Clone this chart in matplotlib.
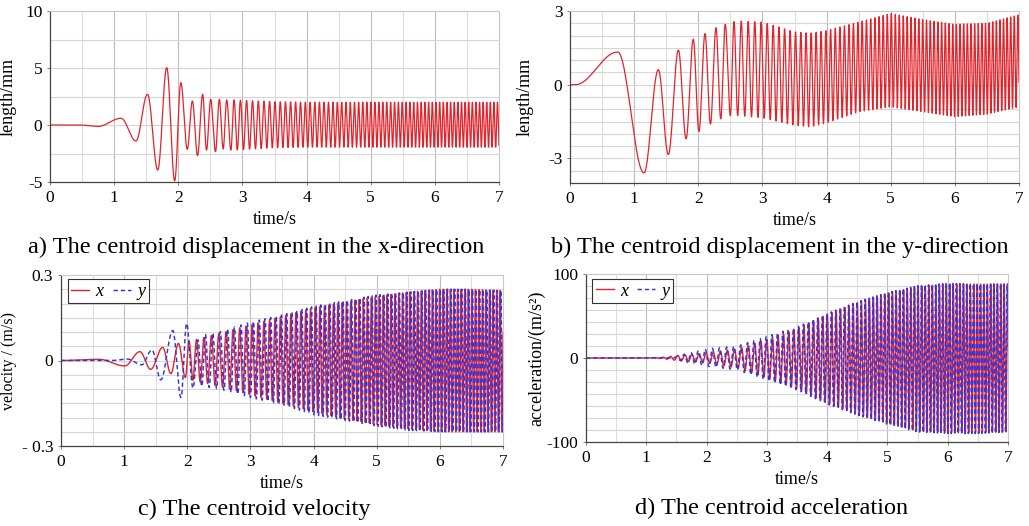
import numpy as np
import matplotlib
matplotlib.use("Agg")
import matplotlib.pyplot as plt
from matplotlib.ticker import FixedLocator, FixedFormatter

plt.rcParams['font.family'] = ['Liberation Serif', 'DejaVu Serif']

# ---------------- data ----------------
# oscillation frequency of the dense part (Hz) at knot times (s)
freq_t = [1.0, 1.5, 2.0, 2.5, 3.0, 4.0, 5.0, 6.0, 7.0]
freq_hz = [8.0, 8.5, 8.5, 8.5, 10.5, 13.5, 16.0, 17.5, 18.0]

# a) x displacement (mm): early extrema
ax_ext_t = [0.0, 0.45, 0.75, 1.107, 1.34, 1.52, 1.68, 1.82, 1.944, 2.04, 2.14,
            2.22, 2.30, 2.38, 2.44, 2.505, 2.58, 2.64, 2.70, 2.755, 2.82, 2.87]
ax_ext_v = [0.0, 0.0, -0.12, 0.59, -1.40, 2.69, -3.95, 5.03, -4.9, 3.71, -2.13,
            2.1, -2.69, 2.69, -2.2, 2.25, -2.34, 2.25, -2.1, 2.2, -2.2, 2.2]
ax_env_t = [2.87, 3.5, 4.0, 5.0, 6.0, 7.0]
ax_env_up = [2.2, 2.05, 2.0, 2.0, 2.0, 2.0]
ax_env_lo = [-2.2, -2.0, -1.95, -1.95, -1.95, -1.95]

# b) y displacement (mm)
by_ext_t = [0.0, 0.08, 0.745, 1.154, 1.377, 1.533, 1.69, 1.81, 1.922, 2.01,
            2.105, 2.19, 2.276, 2.35, 2.42, 2.50, 2.557]
by_ext_v = [0.0, 0.0, 1.33, -3.59, 0.61, -2.84, 1.41, -2.2, 1.85, -1.9,
            2.08, -1.6, 2.32, -1.39, 2.46, -1.26, 2.57]
by_env_t = [2.6, 3.0, 3.5, 3.75, 4.0, 4.5, 5.0, 5.5, 6.0, 6.5, 7.0]
by_env_up = [2.6, 2.55, 2.15, 2.1, 2.2, 2.55, 2.9, 2.65, 2.45, 2.5, 2.85]
by_env_lo = [-1.25, -1.35, -1.65, -1.72, -1.55, -1.1, -0.9, -1.1, -1.3, -1.2, -0.9]

# c) velocity (m/s)
cx_ext_t = [0.0, 0.6, 1.01, 1.25, 1.42, 1.61, 1.74, 1.86, 1.97]
cx_ext_v = [0.0, 0.004, -0.019, 0.031, -0.031, 0.046, -0.046, 0.06, -0.06]
cx_env_t = [2.0, 2.5, 3.0, 3.5, 4.0, 4.5, 5.0, 5.5, 6.0, 6.5, 7.0]
cx_env_up = [0.065, 0.095, 0.125, 0.155, 0.185, 0.205, 0.225, 0.24, 0.25, 0.25, 0.245]
cx_env_lo = [-0.065, -0.09, -0.12, -0.15, -0.18, -0.205, -0.225, -0.24, -0.25, -0.25, -0.25]

cy_ext_t = [0.0, 0.8, 1.05, 1.28, 1.44, 1.58, 1.77, 1.90, 1.99, 2.09, 2.17]
cy_ext_v = [0.0, 0.0, 0.005, -0.015, 0.037, -0.068, 0.105, -0.13, 0.13, -0.097, 0.072]
cy_env_t = [2.2, 2.5, 3.0, 3.5, 4.0, 4.5, 5.0, 5.5, 6.0, 6.5, 7.0]
cy_env_up = [0.09, 0.10, 0.135, 0.16, 0.19, 0.21, 0.23, 0.24, 0.25, 0.25, 0.245]
cy_env_lo = [-0.09, -0.10, -0.13, -0.155, -0.19, -0.21, -0.23, -0.245, -0.25, -0.25, -0.25]

# d) acceleration (m/s^2)
dx_ext_t = [0.0, 1.1]
dx_ext_v = [0.0, 0.0]
dx_env_t = [1.1, 1.3, 1.5, 2.0, 2.5, 3.0, 3.5, 4.0, 4.5, 5.0, 5.5, 6.0, 6.5, 7.0]
dx_env_up = [0.0, 1.0, 3.0, 6.0, 11.0, 22.0, 35.0, 52.0, 66.0, 77.0, 85.0, 88.0, 88.0, 88.0]
dx_env_lo = [-0.0, -1.0, -3.0, -6.0, -12.0, -24.0, -37.0, -54.0, -67.0, -78.0, -87.0, -89.0, -89.0, -88.0]

dy_ext_t = [0.0, 1.45]
dy_ext_v = [0.0, 0.0]
dy_env_t = [1.45, 1.6, 2.0, 2.5, 3.0, 3.5, 4.0, 4.5, 5.0, 5.5, 6.0, 6.5, 7.0]
dy_env_up = [0.0, 4.0, 11.0, 14.0, 26.0, 37.0, 53.0, 67.0, 78.0, 86.0, 89.0, 88.0, 88.0]
dy_env_lo = [-0.0, -4.0, -10.0, -14.0, -27.0, -38.0, -55.0, -68.0, -79.0, -88.0, -90.0, -90.0, -88.0]

captions = ["a) The centroid displacement in the x-direction",
            "b) The centroid displacement in the y-direction",
            "c) The centroid velocity",
            "d) The centroid acceleration"]


# ---------------- helpers ----------------
def extend(ext_t, ext_v, env_t, up, lo, t_end=7.05):
    ts = list(ext_t)
    vs = list(ext_v)
    upper_next = vs[-1] <= vs[-2]
    tt = ts[-1]
    while tt < t_end:
        f = np.interp(tt, freq_t, freq_hz)
        tt += 0.5 / f
        ts.append(tt)
        vs.append(np.interp(tt, env_t, up if upper_next else lo))
        upper_next = not upper_next
    return np.array(ts), np.array(vs)


def wave(ext_t, ext_v, tv):
    idx = np.searchsorted(ext_t, tv, side='right') - 1
    idx = np.clip(idx, 0, len(ext_t) - 2)
    t0 = ext_t[idx]
    t1 = ext_t[idx + 1]
    s = np.clip((tv - t0) / (t1 - t0), 0, 1)
    v0 = ext_v[idx]
    v1 = ext_v[idx + 1]
    return v0 + (v1 - v0) * (1 - np.cos(np.pi * s)) / 2


t = np.linspace(0, 7, 30000)
RED = '#e3232b'
BLUE = '#3434d8'

fig = plt.figure(figsize=(10.29, 5.26), dpi=100)
W, H = 1029, 526


def make_ax(l, r, top, bot):
    return fig.add_axes([l / W, 1 - bot / H, (r - l) / W, (bot - top) / H])


axa = make_ax(50, 499, 11, 182)
axb = make_ax(570, 1019, 11, 183)
axc = make_ax(61, 503, 275, 446)
axd = make_ax(586, 1008, 274, 442)


def style(ax, ylim, yticks, ylabels, hgrid, ylabel, ylab_x, ylab_size=13):
    ax.set_xlim(0, 7)
    ax.set_ylim(*ylim)
    ax.set_xticks(range(8))
    ax.set_xticklabels([str(i) for i in range(8)])
    ax.yaxis.set_major_locator(FixedLocator(yticks))
    ax.yaxis.set_major_formatter(FixedFormatter(ylabels))
    for x in np.arange(0.5, 7.0, 0.5):
        c = '#bdbdbd' if abs(x - round(x)) < 1e-6 else '#dedede'
        ax.axvline(x, color=c, lw=0.8, zorder=0)
    for y in hgrid:
        ax.axhline(y, color='#d6d6d6', lw=0.8, zorder=0)
    ax.tick_params(axis='both', labelsize=12.5, length=2.5, width=0.6,
                   color='#666666', pad=3)
    for sp in ['top', 'right']:
        ax.spines[sp].set_color('#c8c8c8')
        ax.spines[sp].set_linewidth(0.8)
    for sp in ['left', 'bottom']:
        ax.spines[sp].set_color('#444444')
        ax.spines[sp].set_linewidth(0.9)
    ax.set_xlabel('time/s', fontsize=13)
    ax.xaxis.set_label_coords(0.5, -0.17)
    ax.set_ylabel(ylabel, fontsize=ylab_size)
    ax.yaxis.set_label_coords(ylab_x, 0.5)


# a
et, ev = extend(ax_ext_t, ax_ext_v, ax_env_t, ax_env_up, ax_env_lo)
axa.plot(t, wave(et, ev, t), color=RED, lw=0.9)
style(axa, (-5, 10), [-5, 0, 5, 10], ['-5', '0', '5', '10'],
      np.arange(-2.5, 10, 2.5), 'length/mm', -0.075)

# b
et, ev = extend(by_ext_t, by_ext_v, by_env_t, by_env_up, by_env_lo)
axb.plot(t, wave(et, ev, t), color=RED, lw=0.9)
style(axb, (-4, 3), [-3, 0, 3], ['-3', '0', '3'],
      np.arange(-3.5, 3.0, 0.5), 'length/mm', -0.082)

# c
et, ev = extend(cx_ext_t, cx_ext_v, cx_env_t, cx_env_up, cx_env_lo)
axc.plot(t, wave(et, ev, t), color=RED, lw=1.0, label='x')
et, ev = extend(cy_ext_t, cy_ext_v, cy_env_t, cy_env_up, cy_env_lo)
axc.plot(t, wave(et, ev, t), color=BLUE, lw=1.05, ls=(0, (3, 2)), label='y')
style(axc, (-0.3, 0.3), [-0.3, 0, 0.3], ['- 0.3', '0', '0.3'],
      np.arange(-0.25, 0.3, 0.05), 'velocity / (m/s)', -0.1, ylab_size=11.5)

# d
et, ev = extend(dx_ext_t, dx_ext_v, dx_env_t, dx_env_up, dx_env_lo)
axd.plot(t, wave(et, ev, t), color=RED, lw=1.0, label='x')
et, ev = extend(dy_ext_t, dy_ext_v, dy_env_t, dy_env_up, dy_env_lo)
axd.plot(t, wave(et, ev, t), color=BLUE, lw=1.05, ls=(0, (3, 2)), label='y')
style(axd, (-100, 100), [-100, 0, 100], ['-100', '0', '100'],
      np.arange(-100 + 100 / 7, 100, 100 / 7), 'acceleration/(m/s²)', -0.097)

for ax, anchor in [(axc, (0.015, 0.975)), (axd, (0.015, 0.97))]:
    leg = ax.legend(loc='upper left', bbox_to_anchor=anchor, borderaxespad=0,
                    ncol=2, handlelength=1.0, handletextpad=0.35,
                    columnspacing=0.5, fancybox=False, framealpha=1,
                    edgecolor='#333333', borderpad=0.2,
                    prop={'style': 'italic', 'size': 13})
    leg.get_frame().set_linewidth(0.8)

cap_size = 17.5
fig.text(256 / W, 1 - 247 / H, captions[0], ha='center', va='center', fontsize=cap_size)
fig.text(780 / W, 1 - 247 / H, captions[1], ha='center', va='center', fontsize=cap_size)
fig.text(254 / W, 1 - 509 / H, captions[2], ha='center', va='center', fontsize=cap_size)
fig.text(772 / W, 1 - 508 / H, captions[3], ha='center', va='center', fontsize=cap_size)

fig.savefig('out.png', dpi=100)
